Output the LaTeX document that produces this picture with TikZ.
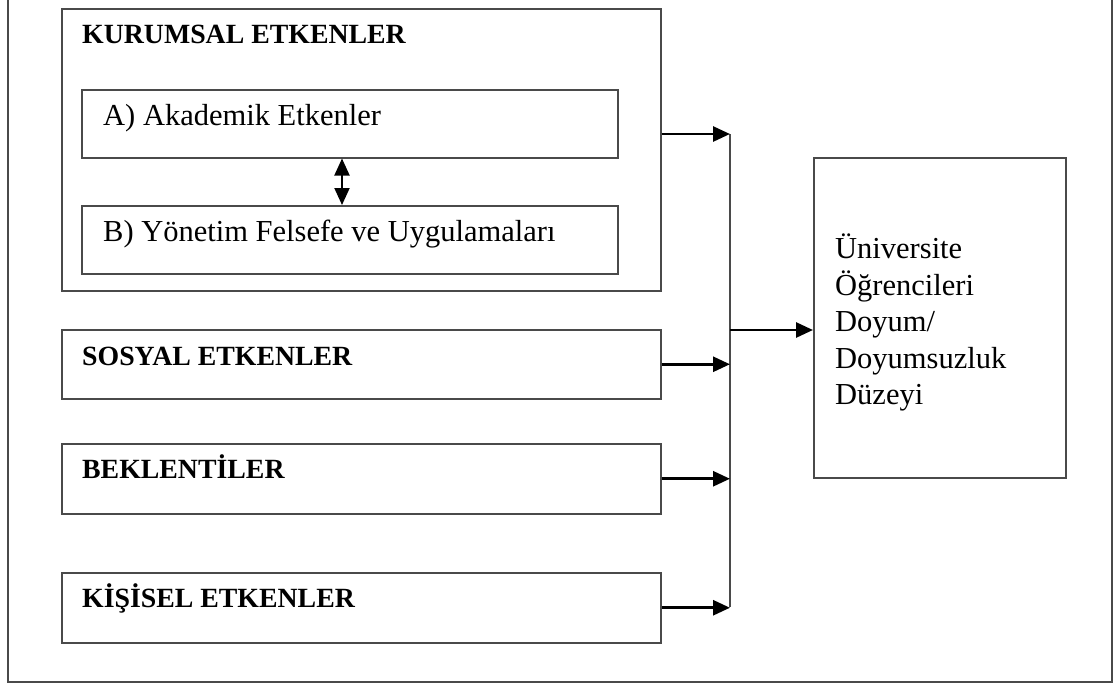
\documentclass[tikz,border=0pt]{standalone}
\usepackage{fontspec}
\setmainfont{Liberation Serif}
\usepackage{xcolor}
\usetikzlibrary{arrows.meta,positioning}

\definecolor{frame}{HTML}{4A4A4A}

\begin{document}
\begin{tikzpicture}[x=1pt,y=-1pt, >={Triangle[length=17pt,width=15pt]},
  box/.style={draw=frame, line width=1.5pt, inner sep=0pt, anchor=north west},
  head/.style={anchor=base west, inner sep=0pt, font=\fontsize{27.8}{33}\selectfont\bfseries},
  txt/.style={anchor=base west, inner sep=0pt, font=\fontsize{30.5}{36.5}\selectfont},
  feed/.style={->, line width=2.8pt}]
  \useasboundingbox (0,0) rectangle (1120,686);
  % outer frame, top edge is cut off
  \draw[frame, line width=2pt] (8,0) -- (8,682) -- (1112,682) -- (1112,0);

  % factor boxes
  \node[box, minimum width=599pt, minimum height=282pt] (kurumsal) at (61,8) {};
  \node[box, minimum width=536pt, minimum height=68pt]  (akad)     at (81,89) {};
  \node[box, minimum width=536pt, minimum height=68pt]  (yonetim)  at (81,205) {};
  \node[box, minimum width=599pt, minimum height=69pt]  (sosyal)   at (61,329) {};
  \node[box, minimum width=599pt, minimum height=70pt]  (beklenti) at (61,443) {};
  \node[box, minimum width=599pt, minimum height=70pt]  (kisisel)  at (61,572) {};
  \node[box, minimum width=252pt, minimum height=320pt] (doyum)    at (813,157) {};

  % texts
  \node[head] (kurumsalT) at (82,43)  {KURUMSAL ETKENLER};
  \node[txt]  (akadT)     at (103,125) {A) Akademik Etkenler};
  \node[txt]  (yonetimT)  at (103,241) {B) Yönetim Felsefe ve Uygulamaları};
  \node[head] (sosyalT)   at (82,365) {SOSYAL ETKENLER};
  \node[head] (beklentiT) at (82,478) {BEKLENTİLER};
  \node[head] (kisiselT)  at (82,607) {KİŞİSEL ETKENLER};
  \node[txt, anchor=north west, align=left] (doyumT) at (835,234)
    {Üniversite\\Öğrencileri\\Doyum/\\Doyumsuzluk\\Düzeyi};

  % connectors
  \draw[<->, line width=2pt] (akad.south -| 342,0) -- (yonetim.north -| 342,0);
  \coordinate (bustop) at (730,134);
  \coordinate (busbot) at (730,607);
  \coordinate (busout) at (730,330);
  \draw[frame, line width=2pt] (bustop) -- (busbot);
  \draw[feed] (kurumsal.east |- bustop) -- (bustop);
  \draw[feed] (sosyal.east) -- (sosyal.east -| bustop);
  \draw[feed] (beklenti.east) -- (beklenti.east -| bustop);
  \draw[feed] (kisisel.east) -- (kisisel.east -| bustop);
  \draw[feed] (busout) -- (doyum.west |- busout);
\end{tikzpicture}
\end{document}
